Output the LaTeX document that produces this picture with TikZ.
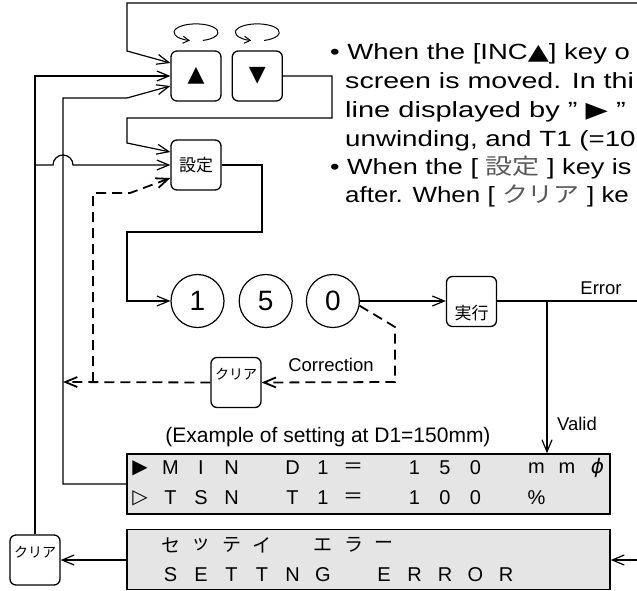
\documentclass[tikz,border=0pt]{standalone}
\usepackage{fontspec}
\usepackage{graphicx}
\setmainfont{Liberation Sans}
\newfontfamily\jpfont{Noto Sans CJK JP}
\newfontfamily\symfont{DejaVu Sans}
\usetikzlibrary{arrows.meta, positioning, calc}
\newcommand{\widetext}[2][1.28]{\scalebox{#1}[1]{#2}}

\begin{document}
\begin{tikzpicture}[
    x=1pt, y=-1pt,
    key/.style={draw, rounded corners=6pt, line width=1.3pt, minimum width=50pt, minimum height=50pt, inner sep=0pt},
    digit/.style={draw, circle, line width=1.2pt, minimum size=53pt, inner sep=0pt, font=\fontsize{28}{30}\selectfont},
    lcd/.style={draw, line width=1.4pt, fill=gray!20, minimum width=483pt, minimum height=60pt, inner sep=0pt},
    lcdch/.style={font=\fontsize{20}{20}\selectfont, inner sep=0pt},
    kanach/.style={font=\jpfont\fontsize{19}{20}\selectfont, inner sep=0pt},
    arr/.style={-{Straight Barb[length=12pt,width=10pt]}, line width=1.2pt},
    dsh/.style={arr, dash pattern=on 10pt off 6pt, line width=1.8pt},
    rot/.style={-{Straight Barb[length=6pt,width=7pt]}, line width=1pt},
    lbl/.style={font=\fontsize{18.5}{20}\selectfont, inner sep=0pt},
    note/.style={font=\fontsize{22}{24}\selectfont, anchor=base west, inner sep=0pt}
]
\useasboundingbox (0,0) rectangle (637,590);
\clip (0,0) rectangle (637,590);

% keys
\node[key, font=\symfont\fontsize{22}{22}\selectfont] (inc) at (196,76) {▲};
\node[key, font=\symfont\fontsize{22}{22}\selectfont, right=10pt of inc] (dec) {▼};
\node[key, font=\jpfont\fontsize{17}{17}\selectfont] (set) at (196,165) {設定};
\node[digit] (d1) at (197.5,301) {1};
\node[digit, right=14pt of d1] (d5) {5};
\node[digit, right=13pt of d5] (d0) {0};
\node[key, font=\jpfont\fontsize{17}{17}\selectfont] (run) at (471.5,301.5) {\raisebox{-18pt}[0pt][0pt]{実行}};
\node[key, font=\jpfont\fontsize{14}{14}\selectfont] (clr2) at (236,382.5) {\raisebox{3pt}[0pt][0pt]{クリア}};
\node[key, font=\jpfont\fontsize{14}{14}\selectfont] (clr1) at (35,560) {\raisebox{3pt}[0pt][0pt]{クリア}};

% rotation marks
\draw[rot] ($(inc.north)+(6.8,-9.9)$) arc[start angle=72, end angle=-254, x radius=22, y radius=8.5];
\draw[rot] ($(dec.north)+(6.8,-9.9)$) arc[start angle=72, end angle=-254, x radius=22, y radius=8.5];

% displays
\node[lcd] (lcd1) at (368.5,484) {};
\node[lcd] (lcd2) at (368.5,559.5) {};
\foreach \c [count=\i from 0] in {{\symfont ▶},M,I,N,,D,1,{\jpfont ＝},,1,5,0,,m,m,{\symfont\itshape ϕ}}
  \node[lcdch] (ra\i) at (140+30.5*\i,468) {\c};
\foreach \c [count=\i from 0] in {{\symfont ▷},T,S,N,,T,1,{\jpfont ＝},,1,0,0,,\%}
  \node[lcdch] (rb\i) at (140+30.5*\i,498) {\c};
\foreach \c [count=\i from 0] in {,セ,ッ,テ,イ,,エ,ラ,ー}
  \node[kanach] (ea\i) at (140+30.5*\i,545) {\c};
\foreach \c [count=\i from 0] in {,S,E,T,T,N,G,,E,R,R,O,R}
  \node[lcdch] (eb\i) at (140+30.5*\i,575) {\c};

% labels
\node[lbl] (err-l) at (601,288) {Error};
\node[lbl] (ok-l) at (577,424) {Valid};
\node[lbl] (cor-l) at (331,365) {Correction};
\node[font=\fontsize{21}{22}\selectfont, inner sep=0pt] (ex-l) at (328,437) {(Example of setting at D1=150mm)};

% notes
\node[note] (n1) at (330,59) {\widetext[1.25]{• When the [INC{\symfont ▲}] key o}};
\node[note] (n2) at (345,88) {\widetext[1.30]{screen is moved. In thi}};
\node[note] (n3) at (345,117) {\widetext[1.32]{line displayed by ” {\symfont ▶} ”}};
\node[note] (n4) at (345,146) {\widetext[1.26]{unwinding, and T1 (=10}};
\node[note] (n5) at (330,174) {\widetext[1.23]{• When the [ {\jpfont\color{black!65}設定} ] key is}};
\node[note] (n6) at (345,202) {\widetext[1.18]{after. When [ {\jpfont\color{black!65}クリア} ] ke}};

% connectors
\coordinate (top-in) at (660,3);
\draw[arr] (top-in) -- (127,3) -- (127,51) -- ($(inc.west)+(0,-13)$);
\draw[arr] (clr1.north) -- (clr1.north |- inc.west) -- (inc.west);
\draw[arr] (clr1.north |- set.west) -- (53,165) arc[start angle=180, end angle=360, radius=10] -- (set.west);
\draw[arr] (lcd1.west) -- (63,484) -- (63,98) -- (127,98) -- ($(inc.west)+(0,10)$);
\draw[arr] (dec.east) -- (332,76) -- (332,118) -- (127,118) -- (127,143) -- ($(set.west)+(0,-13)$);
\draw[arr] (set.east) -- (262,165) -- (262,232) -- (127,232) -- (127,301) -- (d1.west);
\draw[arr] (d0.east) -- (run.west |- d0.east);
\draw[arr] (run.east |- d0.east) -- (660,301) -- (660,560) -- (lcd2.east |- clr1.east);
\coordinate (fork) at (547,301);
\draw[arr] (fork) -- (fork |- lcd1.north);
\draw[arr] (lcd2.west |- clr1.east) -- (clr1.east);

% correction path
\draw[dsh] (d0.-10) -- (395,327) -- (395,382) -- (clr2.east);
\draw[dsh] (clr2.west) -- (63,382);
\coordinate (cj) at (93,382);
\draw[dsh] (cj) -- (93,193) -- (130,193) -- ($(set.west)+(0,13)$);
\end{tikzpicture}
\end{document}
